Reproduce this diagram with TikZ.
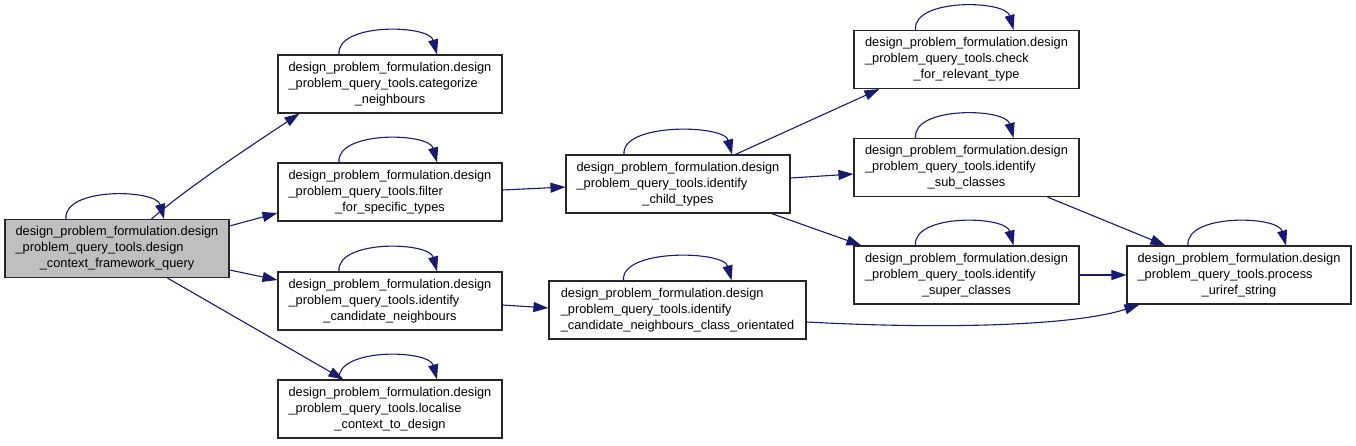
\documentclass[tikz,border=0pt]{standalone}
\usepackage{fontspec}
\setmainfont{Liberation Sans}
\usetikzlibrary{arrows.meta}
\definecolor{edgeblue}{HTML}{191970}
\definecolor{mainfill}{HTML}{BFBFBF}
\newcommand\boxtext[3]{\begin{tabular}{@{}l@{}}#1\\#2\\\multicolumn{1}{@{}c@{}}{#3}\end{tabular}}
\newcommand\selfloop[1]{\draw[edge] ([xshift=-51]#1.north) .. controls +(-3,32) and +(-8,30) .. ([xshift=47]#1.north);}
\begin{document}
\begin{tikzpicture}[x=1pt,y=1pt,
  fn/.style={draw=black!85,line width=1.1pt,fill=white,minimum width=224pt,minimum height=58pt,inner sep=0pt,
    font=\fontsize{12.8}{16}\selectfont},
  edge/.style={draw=edgeblue,line width=1.1pt,-{Triangle[length=15pt,width=10pt]}}]
\useasboundingbox (0,0) rectangle (1356,445);
\node[fn,fill=mainfill] (main) at (117,196.5) {\boxtext{design\_problem\_formulation.design}{\_problem\_query\_tools.design}{\_context\_framework\_query}};
\node[fn] (cat) at (390,361) {\boxtext{design\_problem\_formulation.design}{\_problem\_query\_tools.categorize}{\_neighbours}};
\node[fn] (filt) at (390,253) {\boxtext{design\_problem\_formulation.design}{\_problem\_query\_tools.filter}{\_for\_specific\_types}};
\node[fn] (icand) at (390,144) {\boxtext{design\_problem\_formulation.design}{\_problem\_query\_tools.identify}{\_candidate\_neighbours}};
\node[fn] (loc) at (390,36) {\boxtext{design\_problem\_formulation.design}{\_problem\_query\_tools.localise}{\_context\_to\_design}};
\node[fn] (child) at (678,261) {\boxtext{design\_problem\_formulation.design}{\_problem\_query\_tools.identify}{\_child\_types}};
\node[fn,minimum width=257pt] (clor) at (677.5,135) {\boxtext{design\_problem\_formulation.design}{\_problem\_query\_tools.identify}{\_candidate\_neighbours\_class\_orientated}};
\node[fn,minimum width=225pt] (check) at (966.5,385.5) {\boxtext{design\_problem\_formulation.design}{\_problem\_query\_tools.check}{\_for\_relevant\_type}};
\node[fn,minimum width=225pt] (sub) at (966.5,277.5) {\boxtext{design\_problem\_formulation.design}{\_problem\_query\_tools.identify}{\_sub\_classes}};
\node[fn,minimum width=225pt] (super) at (966.5,170) {\boxtext{design\_problem\_formulation.design}{\_problem\_query\_tools.identify}{\_super\_classes}};
\node[fn] (proc) at (1239,170) {\boxtext{design\_problem\_formulation.design}{\_problem\_query\_tools.process}{\_uriref\_string}};
\foreach \n in {main,cat,filt,icand,loc,check,sub,super,proc} {\selfloop{\n}}
\draw[edge] ([xshift=-54]child.north) .. controls +(-3,32) and +(-8,30) .. ([xshift=54]child.north);
\draw[edge] ([xshift=-54]clor.north) .. controls +(-3,32) and +(-8,30) .. ([xshift=54]clor.north);
\draw[edge] ([xshift=147]main.north west) .. controls +(38,33) and +(-45,-30) .. ([xshift=22]cat.south west);
\draw[edge] ([yshift=22.5]main.east) -- ([yshift=-21]filt.west);
\draw[edge] ([yshift=-21.5]main.east) -- ([yshift=21]icand.west);
\draw[edge] ([xshift=163]main.south west) -- ([xshift=66]loc.north west);
\draw[edge] ([yshift=2]filt.east) -- ([yshift=-3]child.west);
\draw[edge] ([yshift=-4]icand.east) -- ([yshift=2]clor.west);
\draw[edge] ([xshift=170]child.north west) -- ([xshift=26]check.south west);
\draw[edge] ([yshift=6]child.east) -- ([yshift=-6.5]sub.west);
\draw[edge] ([xshift=206]child.south west) -- ([xshift=8]super.north west);
\draw[edge] ([xshift=194]sub.south west) -- ([xshift=39]proc.north west);
\draw[edge] (super.east) -- (proc.west);
\draw[edge] ([yshift=-12]clor.east) .. controls +(150,-8) and +(-60,-20) .. ([xshift=13]proc.south west);
\end{tikzpicture}
\end{document}
